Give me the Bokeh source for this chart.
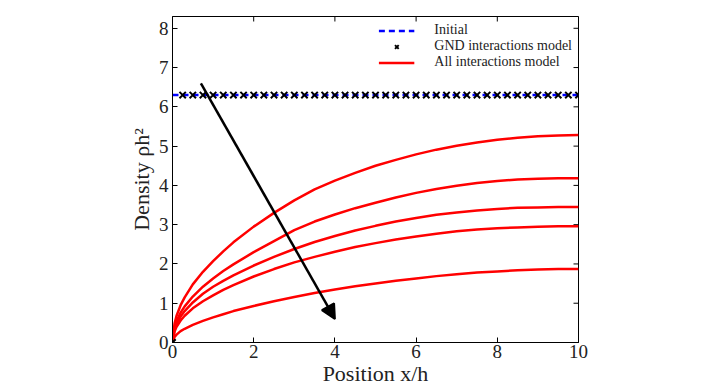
import math
from bokeh.plotting import figure
from bokeh.models import Range1d, FixedTicker, Arrow, NormalHead, Legend, LegendItem
from bokeh.embed import file_html
from bokeh.resources import INLINE

# ---- data ----
x_ticks = [0, 2, 4, 6, 8, 10]
y_ticks = [0, 1, 2, 3, 4, 5, 6, 7, 8]
X_MIN, X_MAX = 0, 10
Y_MIN, Y_MAX = 0, 8.3

initial_x = [0, 10]
initial_y = [6.3, 6.3]

gnd_x = [0] + [0.25 * i for i in range(1, 41)]
gnd_y = [0] + [6.3] * 40

pos = [0, 0.05, 0.1, 0.2, 0.3, 0.5, 0.75, 1, 1.25, 1.5, 2, 2.5, 3, 3.5, 4, 4.5,
       5, 5.5, 6, 6.5, 7, 7.5, 8, 8.5, 9, 9.5, 10]
curve1 = [0, 0.48, 0.68, 0.95, 1.15, 1.48, 1.80, 2.07, 2.32, 2.55, 2.95, 3.30, 3.62, 3.90,
          4.12, 4.32, 4.50, 4.65, 4.79, 4.91, 5.01, 5.09, 5.16, 5.21, 5.25, 5.27, 5.28]
curve2 = [0, 0.38, 0.54, 0.76, 0.92, 1.17, 1.42, 1.63, 1.82, 1.99, 2.30, 2.58, 2.86, 3.08,
          3.26, 3.42, 3.56, 3.69, 3.81, 3.91, 3.99, 4.06, 4.11, 4.15, 4.17, 4.18, 4.18]
curve3 = [0, 0.33, 0.47, 0.66, 0.80, 1.02, 1.24, 1.42, 1.57, 1.71, 1.96, 2.18, 2.38, 2.56,
          2.71, 2.85, 2.97, 3.08, 3.17, 3.25, 3.31, 3.36, 3.40, 3.43, 3.44, 3.45, 3.45]
curve4 = [0, 0.28, 0.40, 0.56, 0.68, 0.87, 1.05, 1.20, 1.34, 1.46, 1.68, 1.87, 2.04, 2.18,
          2.31, 2.43, 2.53, 2.62, 2.70, 2.77, 2.83, 2.88, 2.91, 2.93, 2.95, 2.96, 2.96]
curve5 = [0, 0.14, 0.20, 0.29, 0.35, 0.45, 0.55, 0.64, 0.72, 0.80, 0.93, 1.05, 1.16, 1.26,
          1.35, 1.43, 1.50, 1.57, 1.63, 1.69, 1.74, 1.78, 1.81, 1.84, 1.86, 1.87, 1.87]
curves = [curve1, curve2, curve3, curve4, curve5]

arrow_start = (0.7, 6.6)
arrow_end = (4.0, 0.6)

FONT = "Liberation Serif"
TXT = "#222222"

p = figure(width=725, height=388, output_backend="svg", toolbar_location=None,
           x_range=Range1d(X_MIN, X_MAX), y_range=Range1d(Y_MIN, Y_MAX),
           min_border_left=172, min_border_right=147,
           min_border_top=16, min_border_bottom=46)
p.grid.visible = False
p.outline_line_color = "black"
p.outline_line_width = 1
p.background_fill_color = "white"
p.border_fill_color = "white"

for ax, ticks in ((p.xaxis[0], x_ticks), (p.yaxis[0], y_ticks)):
    ax.ticker = FixedTicker(ticks=ticks)
    ax.minor_tick_line_color = None
    ax.major_tick_in = 5
    ax.major_tick_out = 0
    ax.axis_line_color = "black"
    ax.major_label_text_font = FONT
    ax.major_label_text_font_size = "19px"
    ax.major_label_text_color = TXT
    ax.axis_label_text_font = FONT
    ax.axis_label_text_font_size = "22px"
    ax.axis_label_text_font_style = "normal"
    ax.axis_label_text_color = TXT

p.xaxis.axis_label = "Position x/h"
p.yaxis.axis_label = "Density \u03c1h\u00b2"
p.xaxis.major_label_standoff = 2
p.yaxis.major_label_standoff = 4
p.xaxis.axis_label_standoff = 0
p.yaxis.axis_label_standoff = 2

# inward ticks on the top and right edges (clipped half-dashes)
p.scatter(x_ticks, [Y_MAX] * len(x_ticks), marker="dash", size=10, angle=math.pi / 2,
          line_color="black", line_width=1)
p.scatter([X_MAX] * len(y_ticks), y_ticks, marker="dash", size=10,
          line_color="black", line_width=1)

red_rs = []
for c in curves:
    red_rs.append(p.line(pos, c, line_color="#ff0000", line_width=2.5))

r_init = p.line(initial_x, initial_y, line_color="#0000ff", line_width=2.5, line_dash="6 4")
r_gnd = p.scatter(gnd_x, gnd_y, marker="x", size=9, line_color="black", line_width=2)

p.add_layout(Arrow(end=NormalHead(size=14, fill_color="black", line_color="black", line_width=2),
                   x_start=arrow_start[0], y_start=arrow_start[1],
                   x_end=arrow_end[0], y_end=arrow_end[1],
                   line_color="black", line_width=2.5))

legend = Legend(items=[LegendItem(label="Initial", renderers=[r_init]),
                       LegendItem(label="GND interactions model", renderers=[r_gnd]),
                       LegendItem(label="All interactions model", renderers=[red_rs[0]])],
                location="top_right", margin=6, padding=0, spacing=0,
                glyph_width=36, glyph_height=13, label_height=13, label_standoff=20,
                label_text_font=FONT, label_text_font_size="14px", label_text_color=TXT,
                border_line_alpha=0, background_fill_alpha=0)
p.add_layout(legend)

open("out.html", "w").write(file_html(p, INLINE))
